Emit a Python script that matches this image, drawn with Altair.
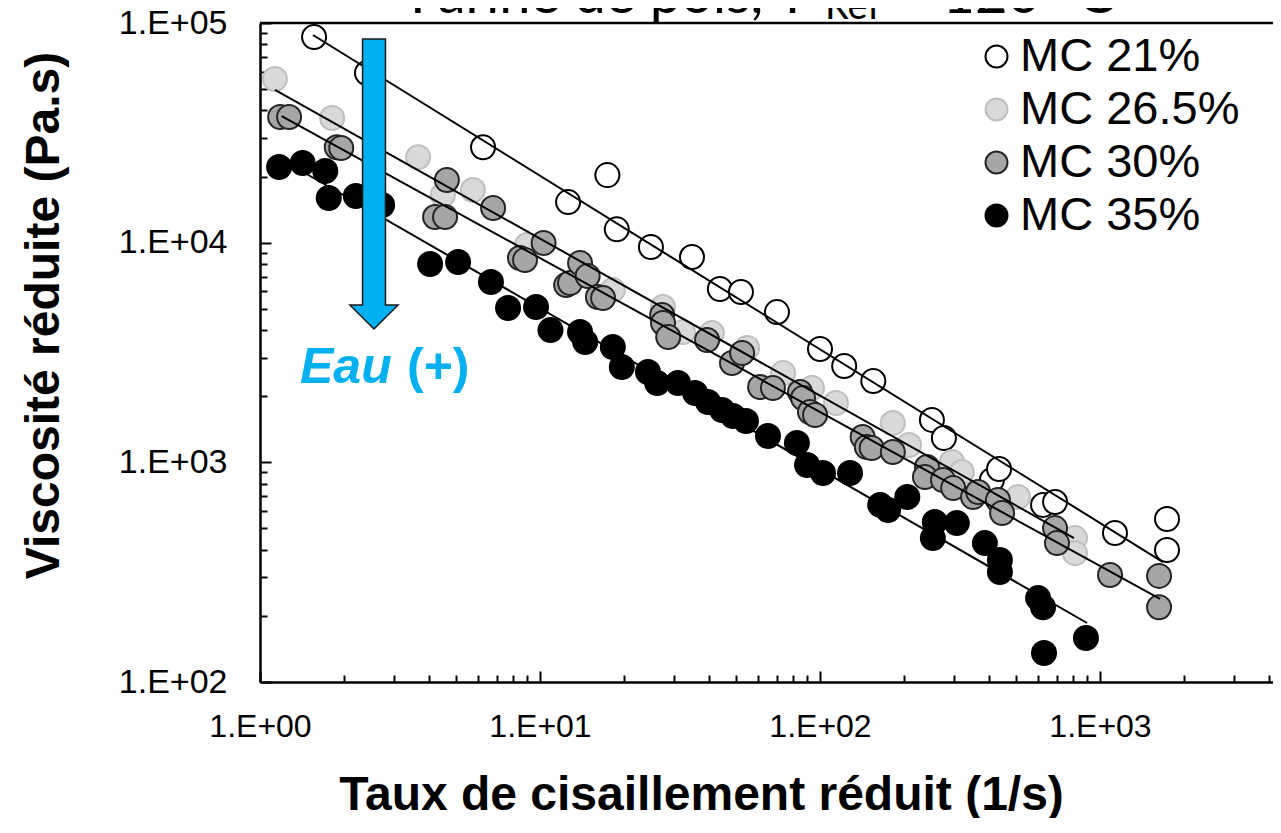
import altair as alt
import pandas as pd

# ---------------- data ----------------
series_names = ["MC 21%", "MC 26.5%", "MC 30%", "MC 35%"]
fill_colors = ["#ffffff", "#d9d9d9", "#a6a6a6", "#000000"]
stroke_colors = ["#000000", "#bfbfbf", "#262626", "#000000"]

mc21_x = [1.56, 2.41, 6.26, 12.6, 17.4, 18.8, 24.9, 34.9, 43.9, 52.2, 70.2, 100, 122, 155, 251,
          277, 411, 436, 626, 691, 1131, 1735, 1735]
mc21_y = [86300, 59200, 27200, 15300, 20300, 11500, 9550, 8610, 6150, 5960, 4830, 3280, 2745, 2345, 1560,
          1291, 831, 933, 640, 660, 477, 552, 399]

mc265_x = [1.13, 1.81, 3.67, 4.50, 5.76, 8.99, 18.2, 27.5, 32.4, 41.1, 54.9, 73.8, 93.6, 114, 182,
           208, 296, 321, 510, 814, 814]
mc265_y = [55600, 36950, 24500, 16480, 17370, 9760, 6090, 5095, 3920, 3880, 3315, 2550, 2180, 1862, 1510,
           1199, 1003, 904, 695, 452, 386]

mc30_x = [1.18, 1.27, 1.88, 1.95, 4.65, 4.22, 4.58, 6.80, 8.48, 8.84, 10.3, 12.4, 12.8, 13.9, 14.8,
          16.1, 16.8, 27.3, 27.5, 28.7, 39.5, 48.5, 52.7, 61.1, 67.9, 84.8, 87.0, 92.1, 96.0, 142,
          147, 153, 182, 241, 237, 275, 299, 352, 367, 432, 447, 691, 702, 1086, 1625, 1625]
mc30_y = [37330, 37330, 27200, 26970, 19280, 13090, 13090, 14380, 8510, 8340, 9960, 6410, 6550, 8080, 7050,
          5655, 5595, 4685, 4310, 3720, 3605, 2832, 3145, 2203, 2180, 2090, 1963, 1694, 1643, 1304,
          1175, 1162, 1114, 952, 858, 831, 764, 695, 733, 674, 588, 502, 429, 307, 304, 219]

mc35_x = [1.17, 1.42, 1.71, 1.76, 2.20, 2.73, 4.05, 5.10, 6.68, 7.69, 9.68, 10.9, 13.9, 14.5, 18.2,
          19.6, 24.3, 26.2, 31.1, 35.8, 39.8, 44.7, 48.9, 54.4, 65.2, 82.7, 89.9, 102.5, 128, 164,
          175, 205, 257, 253, 308, 388, 439, 439, 601, 626, 891, 631]
mc35_y = [22100, 23050, 21200, 15970, 16310, 14840, 7995, 8160, 6620, 5040, 5095, 4000, 3920, 3530, 3350,
          2716, 2578, 2296, 2296, 2068, 1882, 1730, 1625, 1542, 1318, 1225, 972, 894, 894, 640,
          607, 695, 535, 452, 529, 429, 359, 317, 241, 219, 158.6, 135.5]

# power-law fit lines (end points)
fit_x0 = [1.546, 1.131, 1.195, 1.468]
fit_y0 = [88200, 49550, 37720, 20540]
fit_x1 = [1679, 807.6, 1638, 899]
fit_y1 = [351.6, 452, 238.8, 185.6]

x_ticks = [m * 10 ** e for e in range(0, 4) for m in range(1, 10) if m * 10 ** e <= 4100]
y_ticks = [m * 10 ** e for e in range(2, 5) for m in range(1, 10)] + [100000]

# ---------------- tables ----------------
rows = []
for name, xs, ys in zip(series_names, [mc21_x, mc265_x, mc30_x, mc35_x], [mc21_y, mc265_y, mc30_y, mc35_y]):
    for x, y in zip(xs, ys):
        rows.append({"series": name, "x": x, "y": y})
points_df = pd.DataFrame(rows)
points_df["idx"] = range(len(points_df))

fit_rows = []
for name, a, b, c, d in zip(series_names, fit_x0, fit_y0, fit_x1, fit_y1):
    fit_rows.append({"series": name, "x": a, "y": b})
    fit_rows.append({"series": name, "x": c, "y": d})
fits_df = pd.DataFrame(fit_rows)

# ---------------- layout ----------------
W, H = 1013, 659
FONT = "Liberation Sans"
BLUE = "#00B0F0"
isdec = "abs(log(datum.value)/LN10 - round(log(datum.value)/LN10)) < 0.001"
lab = f"{isdec} ? '1.E+0' + round(log(datum.value)/LN10) : ''"

x_scale = alt.Scale(type="log", domain=[1, 4148], nice=False)
y_scale = alt.Scale(type="log", domain=[100, 100000], nice=False)

x_axis = alt.Axis(
    values=x_ticks, labelExpr=lab, labelOverlap=False, labelFlush=False,
    tickSize=alt.ExprRef(f"{isdec} ? -11 : -7"), tickColor="black", tickWidth=2,
    domainColor="black", domainWidth=2.5, grid=False,
    labelFont=FONT, labelFontSize=32, labelColor="black", labelPadding=40,
    labelBaseline="top", labelAlign="center",
    title="Taux de cisaillement réduit (1/s)", titleFont=FONT, titleFontSize=48,
    titleFontWeight="bold", titleColor="black", titleX=441, titleY=127,
    titleAlign="center", titleBaseline="alphabetic",
)
y_axis = alt.Axis(
    values=y_ticks, labelExpr=lab, labelOverlap=False, labelFlush=False,
    tickSize=alt.ExprRef(f"{isdec} ? -11 : -7"), tickColor="black", tickWidth=2,
    domainColor="black", domainWidth=2.5, grid=False,
    labelFont=FONT, labelFontSize=34, labelColor="black", labelPadding=44,
    labelBaseline="middle", labelAlign="right",
    title="Viscosité réduite (Pa.s)", titleFont=FONT, titleFontSize=48,
    titleFontWeight="bold", titleColor="black", titleX=-216, titleY=292,
    titleAngle=270, titleAlign="center", titleBaseline="middle",
)

legend = alt.Legend(
    title=None, orient="none", legendX=713, legendY=10, padding=0,
    labelFont=FONT, labelFontSize=47, labelColor="black", labelOffset=0, labelLimit=600,
    symbolType="circle", symbolSize=484, symbolStrokeWidth=2, symbolOpacity=1,
    rowPadding=5,
)

points = alt.Chart(points_df).mark_point(
    filled=True, shape="circle", size=576, strokeWidth=2, opacity=1
).encode(
    x=alt.X("x:Q", scale=x_scale, axis=x_axis),
    y=alt.Y("y:Q", scale=y_scale, axis=y_axis),
    fill=alt.Fill("series:N", scale=alt.Scale(domain=series_names, range=fill_colors), legend=legend),
    stroke=alt.Stroke("series:N", scale=alt.Scale(domain=series_names, range=stroke_colors), legend=legend),
    order=alt.Order("idx:Q"),
)

fits = alt.Chart(fits_df).mark_line(color="black", strokeWidth=2).encode(
    x=alt.X("x:Q", scale=x_scale),
    y=alt.Y("y:Q", scale=y_scale),
    detail="series:N",
)

one = alt.Data(values=[{"a": 1}])
arrow_path = "M -0.079 -1 L 0.079 -1 L 0.079 0.834 L 0.166 0.834 L 0 1 L -0.166 0.834 L -0.079 0.834 Z"
arrow = alt.Chart(one).mark_point(
    shape=arrow_path, size=290 * 290, filled=True, fill=BLUE, stroke="#1a1a1a",
    strokeWidth=1.5, opacity=1
).encode(x=alt.value(114), y=alt.value(161))

eau = alt.Chart(one).mark_text(
    text="Eau", font=FONT, fontSize=50, fontWeight="bold", fontStyle="italic",
    color=BLUE, align="left", baseline="alphabetic"
).encode(x=alt.value(40), y=alt.value(360))
plus = alt.Chart(one).mark_text(
    text="(+)", font=FONT, fontSize=50, fontWeight="bold",
    color=BLUE, align="left", baseline="alphabetic"
).encode(x=alt.value(147), y=alt.value(360))

t1 = alt.Chart(one).mark_text(
    text="Farine de pois, T", font="Lato", fontSize=56, color="black",
    align="right", baseline="alphabetic"
).encode(x=alt.value(549), y=alt.value(-10))
t2 = alt.Chart(one).mark_text(
    text="Ref", font="Lato", fontSize=38, color="black",
    align="left", baseline="alphabetic"
).encode(x=alt.value(565), y=alt.value(-4))
t3 = alt.Chart(one).mark_text(
    text="=120 °C", font="Lato", fontSize=56, color="black",
    align="left", baseline="alphabetic"
).encode(x=alt.value(650), y=alt.value(-10))

top_rule = alt.Chart(one).mark_rule(color="black", strokeWidth=2.5).encode(
    x=alt.value(0), x2=alt.value(W), y=alt.value(0)
)

chart = alt.layer(points, fits, arrow, eau, plus, t1, t2, t3, top_rule).properties(
    width=W, height=H,
    autosize=alt.AutoSizeParams(type="none"),
    padding={"left": 252, "top": 15, "right": 0, "bottom": 136},
).configure_view(strokeWidth=0)

chart.save("out.html", embed_options={"renderer": "svg", "actions": False})
